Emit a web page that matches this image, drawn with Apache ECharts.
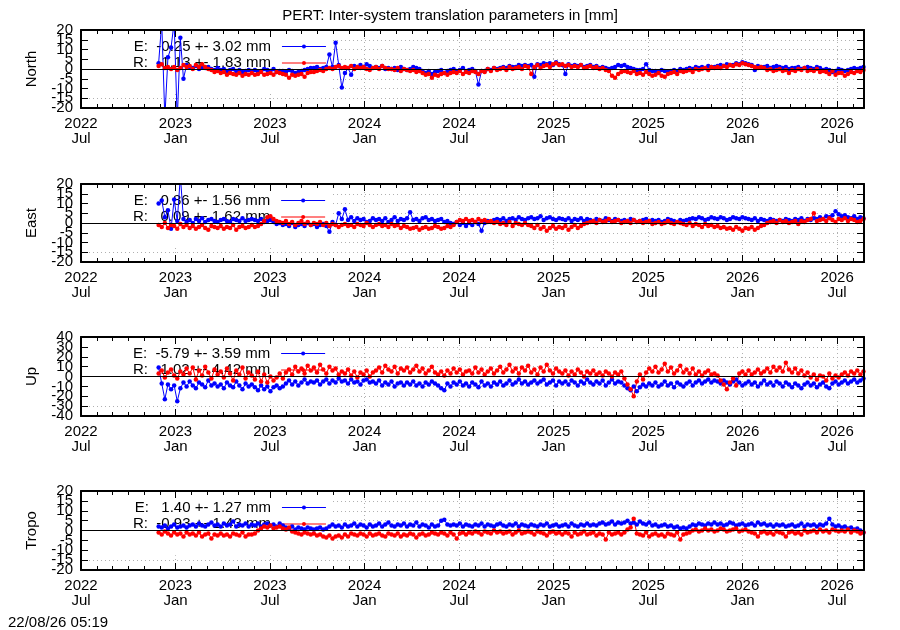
<!DOCTYPE html>
<html><head><meta charset="utf-8">
<script src="https://cdn.jsdelivr.net/npm/echarts@6/dist/echarts.min.js"></script>
<style>html,body{margin:0;padding:0;background:#fff}#c{width:900px;height:630px}</style>
</head><body><div id="c"></div>
<script>
// ---- data ----
const axisStart = '2022-07-01';
const axisEnd = '2026-08-22';
const firstSample = '2022-11-28';
const sampleStepDays = 6;
const xTickLabels = ['2022\nJul','2023\nJan','2023\nJul','2024\nJan','2024\nJul','2025\nJan','2025\nJul','2026\nJan','2026\nJul'];
const panelNames = ['North','East','Up','Tropo'];
const yRanges = [[-20,20,5],[-20,20,5],[-40,40,10],[-20,20,5]];
const legendE = ['E:  -0.25 +- 3.02 mm','E:   0.86 +- 1.56 mm','E:  -5.79 +- 3.59 mm','E:   1.40 +- 1.27 mm'];
const legendR = ['R:  -1.13 +- 1.83 mm','R:   0.09 +- 1.62 mm','R:   1.02 +- 4.42 mm','R:  -0.93 +- 1.43 mm'];
const titleText = 'PERT: Inter-system translation parameters in [mm]';
const stampText = '22/08/26 05:19';

const northE = [
3,24,-25,6,11,24,-26,16,-5,2,
1,0.5,1.5,0,1,0.5,1,0,-0.5,0.5,
-0.5,0,-1,-0.5,0,-1,-0.5,-1.5,-1,-0.5,
-1,-0.5,-1.5,-1,0,-0.5,-1,0,-1.5,-1,
-1,-1.5,-0.5,-1,-2,-1.5,-1,-0.5,0,0.5,
0.5,1,0,0.5,1,7.5,1,13.5,2,-9.5,
-2,0.5,-3,1.5,1,2,1,2.5,1.5,0.5,
1,0.5,1.5,0,0.5,0,0.5,-0.5,1,0,
-0.5,0,1,0.5,0,-1,-2,-1,-2.5,-1.5,
-1,-0.5,-2,-1,-0.5,0,-1,-0.5,0.5,-1,
-0.5,0,-1,-8,-1,-1,0,-0.5,0.5,0,
0.5,1,0.5,1.5,1,1,2,1.5,2,1.5,
2,-4,2.5,2,3,2.5,3,2,3.5,2.5,
2,-2.5,2.5,1.5,2,1.5,2,1,1.5,2,
1,1.5,0.5,1,0.5,0,0.5,1,2,1.5,
2,1,0.5,0,-0.5,-0.5,0,2.5,-0.5,-1,
-1,-1.5,-0.5,-1,-1.5,-1,-0.5,-1,0,-0.5,
0,0.5,0,1,0.5,1,0.5,1.5,1,1,
1.5,2,1.5,2.5,2,2,3,2.5,3.5,3,
2.5,2,-0.5,1.5,1,1,1.5,0.5,1,1.5,
1,0.5,1,0,0.5,0.5,1,0,0.5,1,
0.5,0,1,0.5,-0.5,0,-0.5,-1.5,-1,0,
-0.5,-1,-0.5,0,0.5,0,0.5,1];
const northR = [
1.5,2.5,0.5,1,0,1,-0.5,0.5,2,1,
1.5,0,2,1,2.5,1,0,-0.5,-1.5,-1,
-2,-1.5,-3,-2,-2.5,-3,-2,-3.5,-2.5,-3,
-2,-3,-2.5,-1.5,-3,-2.5,-2,-3,-1.5,-2,
-2.5,-3,-4.5,-3,-3.5,-3,-2.5,-4,-2,-1.5,
-1.5,-1,-0.5,-1,0,0.5,0,1,1.5,0.5,
1,0.5,1.5,0,1,0.5,1,0,-0.5,0.5,
1,0,1.5,0.5,0,0,-0.5,0.5,-1,0,
-0.5,-1,-0.5,-1.5,-1,-2,-3,-2.5,-4.5,-3,
-3.5,-2.5,-2,-3,-2,-1.5,-2,-1,-2.5,-1.5,
-2,-1,-1.5,-2.5,-1,-1.5,0,-1,0.5,-0.5,
0,0.5,-0.5,1,0,0.5,1,0,1.5,1,
-2.5,1,2,0.5,1.5,2,1,2.5,3,2,
2.5,1.5,2,1,1.5,1,2,0.5,1,1.5,
0.5,1,0,0.5,-0.5,-1,-3.5,-4.5,-2.5,-1.5,
-1,-1.5,-2,-1,-2.5,-2,-3,-1.5,-2.5,-3.5,
-3,-2,-3.5,-4,-2.5,-2,-1.5,-2.5,-1,-1.5,
-1,-0.5,-1.5,0,-0.5,0,0.5,-0.5,1,0.5,
1,0.5,1.5,1,2,1.5,2.5,2,3,2.5,
2,1.5,1,0.5,1,0.5,-0.5,0,-1,-0.5,
0,-1,-0.5,-2,-0.5,-1,0,-0.5,0.5,-1,
-0.5,-1,0,-1.5,-1,-1.5,-2.5,-1,-3,-2,
-2,-3.5,-2.5,-1.5,-2,-1,-1.5,-0.5];
const eastE = [
10,11.5,3,6.5,-3,12,1,24,2,0.5,
1.5,0,2,1,2.5,0.5,1.5,2,1,0.5,
1.5,2,1,0.5,2,1.5,1,2.5,1,1.5,
2,1.5,1,2,0.5,1,1.5,0.5,-0.5,0,
-1,-0.5,-1.5,0,-2,-1,-0.5,-1.5,0,-1,
-0.5,-2,-1,-0.5,-1.5,-4.5,0.5,-1,5,2,
7,1.5,3,1,2.5,1.5,2,0.5,1,2.5,
1.5,2,1,2.5,0.5,1.5,3,1,2,1.5,
2.5,5.5,1.5,2,1,2.5,3,1.5,2,1,
1.5,2,0.5,1,0,-0.5,0.5,-1,0,-1.5,
0,-1,0.5,-0.5,-4,0,1,0.5,1.5,2,
1.5,2.5,1,2,2.5,1.5,3,2,1.5,2.5,
3,2,2.5,3.5,1.5,2.5,3,2,1.5,2.5,
2,1.5,2.5,1,2,1.5,2.5,1,2,1.5,
1,2,1.5,1,2.5,1.5,1,2,1.5,1,
1.5,1,2,1.5,0.5,1,1.5,2,1,1.5,
1,1.5,0.5,1,2,1.5,1,0.5,1.5,1,
1.5,2,2.5,2,3,2.5,1.5,2,3,2.5,
2,3,2.5,1.5,2,3,2.5,2,3,2.5,
2,1.5,2.5,1,2,1.5,1,2,1.5,1,
1.5,1,2,1.5,1,2,1.5,2.5,1,2,
1.5,2.5,2,3,2,3.5,3,4,6,4.5,
3.5,4,3,2.5,3.5,2,3,2.5];
const eastR = [
-1,-2,0,-2.5,-1,-1.5,-3,-0.5,-2,-1,
-2.5,-1.5,-3,-2,-1,-2.5,-3.5,-1.5,-2,-2.5,
-1.5,-3,-2,-2.5,-1,-3.5,-2,-1.5,-2.5,-2,
-1,-2,-1.5,-0.5,1,3,3.5,2,1,0.5,
0,1,-0.5,0.5,-1,0,1,-0.5,0.5,-1,
0,-0.5,0.5,-1,0,-1.5,-0.5,-1,-2,-1,
-0.5,-1.5,-1,-2,-0.5,-1,-1.5,0,-1,-2,
-1,-0.5,-1.5,-1,-2,-0.5,-1.5,-1,-2.5,-1.5,
-2,-3,-2.5,-2,-3.5,-2.5,-2,-3,-2.5,-1.5,
-2,-3,-2.5,-1.5,-2,-1,0.5,1.5,1,2,
1,1.5,0.5,2,1,1.5,0.5,1,0,0.5,
-0.5,0,-1,0.5,-1.5,0,-0.5,-1,0,-1,
-1.5,-2.5,-1,-3,-2,-4,-2.5,-1.5,-3,-2,
-2.5,-1.5,-3.5,-2,-1,-2.5,-1.5,-0.5,0,0.5,
1,0,1.5,0.5,1,2,0.5,1,1.5,0,
0.5,1,0,1.5,0.5,1,0,0.5,1,-0.5,
0,0.5,-0.5,0,1,0,-0.5,0.5,0,-0.5,
-1,0,-1.5,-0.5,-1,-2,-0.5,-1.5,-1,-2,
-1.5,-2.5,-2,-3,-2.5,-3.5,-2,-3,-4,-2.5,
-3,-2,-3.5,-2.5,-1.5,-1,0,0.5,1,0,
1.5,0.5,1,0,0.5,1,-0.5,1,0.5,1.5,
2,5,1,1.5,2,1,2.5,1.5,0.5,2,
1.5,2.5,1,2,1.5,0.5,1,2];
const upE = [
9,-7,-23,-8,-13,-9,-25,-12,-6,-10,
-5,-9,-12,-6,-8,-11,-4,-9,-7,-10,
-8,-12,-6,-9,-11,-5,-9,-13,-7,-10,
-8,-11,-14,-9,-13,-10,-15,-11,-9,-12,
-10,-7,-4,-8,-5,-9,-6,-3,-7,-5,
-6,-4,-8,-5,-3,-7,-4,-6,-2,-5,
-4,-7,-3,-6,-5,-8,-4,-3,-6,-5,
-7,-4,-9,-6,-8,-5,-10,-7,-6,-9,
-6,-8,-5,-9,-7,-10,-6,-8,-5,-7,
-9,-12,-14,-7,-10,-6,-8,-5,-9,-7,
-10,-6,-8,-11,-5,-9,-7,-10,-6,-8,
-5,-9,-7,-4,-8,-6,-3,-7,-5,-8,
-6,-4,-7,-5,-3,-8,-6,-4,-9,-5,
-7,-5,-8,-4,-6,-9,-5,-7,-3,-6,
-8,-5,-7,-4,-9,-6,-3,-7,-5,-6,
-9,-12,-14,-10,-15,-11,-8,-10,-7,-9,
-6,-10,-8,-5,-9,-7,-11,-6,-8,-10,
-7,-5,-9,-6,-4,-7,-5,-3,-6,-4,
-5,-7,-4,-6,-8,-5,-3,-6,-9,-7,
-5,-8,-6,-10,-7,-4,-8,-6,-9,-5,
-7,-10,-6,-8,-11,-7,-9,-12,-8,-6,
-9,-7,-11,-8,-6,-10,-12,-7,-5,-8,
-6,-4,-7,-5,-3,-6,-4,-2];
const upR = [
3,6,-1,4,7,1,-2,5,2,8,
3,9,-3,6,1,10,4,-2,7,2,
5,-1,8,3,-4,6,2,9,-2,4,
1,-3,5,-5,2,-6,0,-4,-1,3,
-2,4,7,2,10,5,8,3,11,6,
9,4,12,7,3,10,6,8,2,5,
3,7,1,5,-1,4,2,6,0,4,
6,9,4,11,7,5,10,3,8,6,
9,4,7,11,5,8,3,6,10,4,
2,5,1,6,3,8,4,7,2,5,
6,3,9,4,7,2,5,8,3,6,
10,4,7,12,5,8,3,9,6,11,
4,7,2,9,5,12,6,3,8,5,
3,6,1,5,2,7,4,0,5,3,
6,2,4,1,5,3,0,4,2,5,
-2,-8,-13,-20,-5,2,-3,4,8,5,
10,4,7,13,5,9,3,6,11,4,
7,3,8,2,5,1,4,6,2,3,
1,-4,-8,-13,-6,-2,-9,3,5,2,
6,2,4,7,3,5,8,4,10,6,
9,5,14,7,4,8,3,6,1,4,
-1,2,-3,1,0,-4,3,-2,1,-1,
2,4,1,5,3,6,2,5];
const tropoE = [
2,1.5,2.5,1,2,3,1.5,2,2.5,1.5,
2.5,3,2,3.5,2.5,2,3,4,2.5,3,
2,3.5,2.5,3,4.5,2,3,2.5,3.5,2,
3,2.5,3.5,2,3,3.5,2.5,3,2,3.5,
2.5,1.5,1,2,0.5,1.5,1,0.5,1.5,1,
0.5,1,1.5,0.5,1,2,3,2,2.5,1.5,
3,2,2.5,3.5,2,3,2.5,1.5,3,2,
2.5,3.5,2,3,4,2.5,2,3,2.5,3.5,
2,3,2.5,4,2,3,2.5,1.5,3,2,
2.5,5,5.5,3,2.5,3,2.5,3.5,2,3,
2.5,2,3,2.5,3.5,2,3,2.5,2,3,
3.5,2.5,2,3,2.5,3.5,2,3,2.5,2,
3,2.5,2,3,2.5,3.5,2,2.5,3,2,
2.5,3,2,3.5,2.5,2,3,2.5,3.5,2.5,
3,2.5,3.5,4,3,3.5,4.5,3,4,3.5,
4,5,3.5,4,3,4.5,3.5,3,4,2.5,
3,2,2.5,3,2,2.5,1.5,2,1,1.5,
1,2,3,2.5,3.5,3,2.5,3.5,3,4,
3,3.5,2.5,3,4,3.5,2.5,3,3.5,2.5,
3,3.5,2.5,4,3,3.5,2.5,3,2,3,
2.5,3,2,2.5,3,2,2.5,3.5,2,3,
2.5,3,2,3,2.5,3.5,6,3,2,2.5,
1.5,2,1,1.5,0.5,1,0,-1];
const tropoR = [
-1,-2,-0.5,-1.5,-2.5,-1,-2,-1.5,-3,-1,
-2,-1.5,-2.5,-1,-3,-2,-1.5,-4,-2,-2.5,
-1.5,-2.5,-2,-3,-1.5,-2,-2.5,-1,-3,-2,
-2,-1.5,0,1,2,1.5,2.5,1,1.5,2,
1,0.5,1.5,-0.5,-1,-1.5,-2,-1,-1.5,-2,
-1.5,-2.5,-2,-3,-3.5,-2.5,-4,-3,-2.5,-3.5,
-2,-3,-1.5,-2,-2.5,-1.5,-2,-3,-1.5,-2.5,
-2,-1.5,-2.5,-3,-1.5,-2,-2.5,-1.5,-3,-2,
-2.5,-1.5,-2,-3.5,-2,-1.5,-2.5,-2,-1,-1.5,
-2,-1,-1.5,-2.5,-1,-2,-4,-1.5,-1,-2,
-1,-1.5,-0.5,-1,-2,-0.5,-1,-1.5,0,-1,
-0.5,-1.5,-1,-0.5,-2,-1,0,-1.5,-1,-0.5,
-1,-2,-0.5,-1,-1.5,-2.5,-1,-0.5,-1.5,-1,
-2,-1,-1.5,-3,-1,-2,-1.5,-0.5,-2,-1.5,
-1,-2.5,-1.5,-2,-4.5,-1,-2,-1.5,-1,-2,
-1,0.5,1.5,6,-1.5,-2,-2.5,-1,-3,-2,
-1.5,-2.5,-2,-3,-1.5,-2,-2.5,-1,-4.5,-2,
-1.5,-1,0,0.5,-0.5,0,1,0,0.5,-0.5,
0,1,0.5,-0.5,0,0.5,1,-0.5,0,0.5,
-0.5,-1,-1.5,-3,-1,-0.5,-1.5,-1,-2,-0.5,
-1,-1.5,-3,-1,-0.5,-1.5,-1,-2,0,-1,
-0.5,0,-1,0.5,-0.5,0,-1,0.5,0,-0.5,
0,-0.5,0.5,-1,0,-0.5,-1.5,-1];

// ---- chart ----
const seriesData = [[northE,northR],[eastE,eastR],[upE,upR],[tropoE,tropoR]];
const DAY = 86400000;
const dayOf = d => (Date.parse(d) - Date.parse(axisStart)) / DAY;
const axisMax = dayOf(axisEnd);
const tickStep = dayOf('2026-07-01') / (xTickLabels.length - 1);
const firstDay = dayOf(firstSample);
const toPoints = arr => arr.map((v, i) => [firstDay + i * sampleStepDays, v]);

const FONT = '"Liberation Sans", Arial, Helvetica, sans-serif';
const BLUE = '#0000ff', RED = '#ff0000';
const L = 81, W = 783;
const tops = [30, 184, 337, 491];
const heights = [78, 78, 79, 79];

function xLabel(v) {
  const k = Math.round(v / tickStep);
  if (Math.abs(v - k * tickStep) > 1 || k >= xTickLabels.length) return '';
  return xTickLabels[k];
}

const grid = [], xAxis = [], yAxis = [], series = [], legend = [], graphic = [];
const frameLine = {show: true, onZero: false, lineStyle: {color: '#000', width: 2}};
const frameTick = {show: true, inside: true, length: 7, lineStyle: {color: '#000', width: 1}};
const gridLine = {show: true, lineStyle: {color: '#b0b0b0', width: 1, type: [1, 3]}};
const yLabelStyle = {fontSize: 15, fontFamily: FONT, color: '#000', margin: 8};

panelNames.forEach((name, k) => {
  grid.push({left: L, top: tops[k], width: W, height: heights[k]});
  const [ymin, ymax, yint] = yRanges[k];
  const xb = {type: 'value', gridIndex: k, min: 0, max: axisMax, interval: tickStep};
  const yb = {type: 'value', gridIndex: k, min: ymin, max: ymax, interval: yint};
  // grid-line axes (under the opaque key box)
  xAxis.push(Object.assign({}, xb, {position: 'bottom', z: 0, axisLine: {show: false}, axisTick: {show: false}, axisLabel: {show: false}, splitLine: gridLine}));
  yAxis.push(Object.assign({}, yb, {position: 'left', z: 0, axisLine: {show: false}, axisTick: {show: false}, axisLabel: {show: false}, splitLine: gridLine}));
  // frame axes
  xAxis.push(Object.assign({}, xb, {position: 'bottom', z: 3, axisLine: frameLine, axisTick: frameTick,
    minorTick: {show: true, splitNumber: 6, length: 4, lineStyle: {color: '#000', width: 1}},
    axisLabel: {formatter: xLabel, fontSize: 15, fontFamily: FONT, color: '#000', lineHeight: 15, margin: 8, showMinLabel: true, showMaxLabel: true},
    splitLine: {show: false}}));
  xAxis.push(Object.assign({}, xb, {position: 'top', z: 3, axisLine: frameLine, axisTick: frameTick,
    minorTick: {show: true, splitNumber: 6, length: 4, lineStyle: {color: '#000', width: 1}},
    axisLabel: {show: false}, splitLine: {show: false}}));
  // left frame: inner tick labels
  yAxis.push(Object.assign({}, yb, {position: 'left', z: 3, axisLine: frameLine, axisTick: frameTick,
    axisLabel: Object.assign({}, yLabelStyle, {showMinLabel: false, showMaxLabel: false}),
    splitLine: {show: false},
    name: name, nameLocation: 'middle', nameRotate: 90, nameGap: 42,
    nameTextStyle: {fontSize: 15, fontFamily: FONT, color: '#000'}}));
  // left: end tick labels (min / max)
  yAxis.push(Object.assign({}, yb, {position: 'left', z: 3, axisLine: {show: false, onZero: false}, axisTick: {show: false},
    axisLabel: Object.assign({}, yLabelStyle, {showMinLabel: true, showMaxLabel: true,
      formatter: v => (v === ymin || v === ymax) ? String(v) : ''}),
    splitLine: {show: false}}));
  yAxis.push(Object.assign({}, yb, {position: 'right', z: 3, axisLine: frameLine, axisTick: frameTick,
    axisLabel: {show: false}, splitLine: {show: false}}));

  const [E, R] = seriesData[k];
  const common = {type: 'line', xAxisIndex: 3 * k, yAxisIndex: 4 * k, symbol: 'circle', symbolSize: 4.5,
    showSymbol: true, clip: true, animation: false, z: 2, emphasis: {disabled: true}};
  series.push(Object.assign({}, common, {name: legendE[k], data: toPoints(E),
    lineStyle: {color: BLUE, width: 1}, itemStyle: {color: BLUE}}));
  series.push(Object.assign({}, common, {name: legendR[k], data: toPoints(R),
    lineStyle: {color: RED, width: 1}, itemStyle: {color: RED},
    markLine: {silent: true, symbol: 'none', animation: false, label: {show: false},
      lineStyle: {color: '#000', width: 1, type: 'solid'}, data: [{yAxis: 0}]}}));

  legend.push({left: 133, top: tops[k] + 9, orient: 'vertical', align: 'right', z: 1.5,
    itemWidth: 44, itemHeight: 5, itemGap: 1.5, selectedMode: false, padding: 0,
    lineStyle: {width: 1},
    textStyle: {fontSize: 15, fontFamily: FONT, color: '#000', lineHeight: 14, padding: [0, 6, 0, 0]},
    data: [legendE[k], legendR[k]]});

  graphic.push({type: 'rect', silent: true, z: 1,
    shape: {x: L + 1, y: tops[k] + 1, width: 332 - L - 1, height: heights[k] * 0.8},
    style: {fill: '#fff'}});
});

graphic.push({type: 'text', left: 8, top: 615, z: 5, style: {text: stampText, font: '15px ' + FONT, fill: '#000'}});

const chart = echarts.init(document.getElementById('c'), null, {renderer: 'canvas'});
chart.setOption({
  backgroundColor: '#fff',
  animation: false,
  title: {text: titleText, left: 'center', top: 3, textStyle: {fontSize: 15, fontWeight: 'normal', fontFamily: FONT, color: '#000'}},
  grid, xAxis, yAxis, series, legend, graphic,
  tooltip: {show: false}
});
</script>
</body></html>
